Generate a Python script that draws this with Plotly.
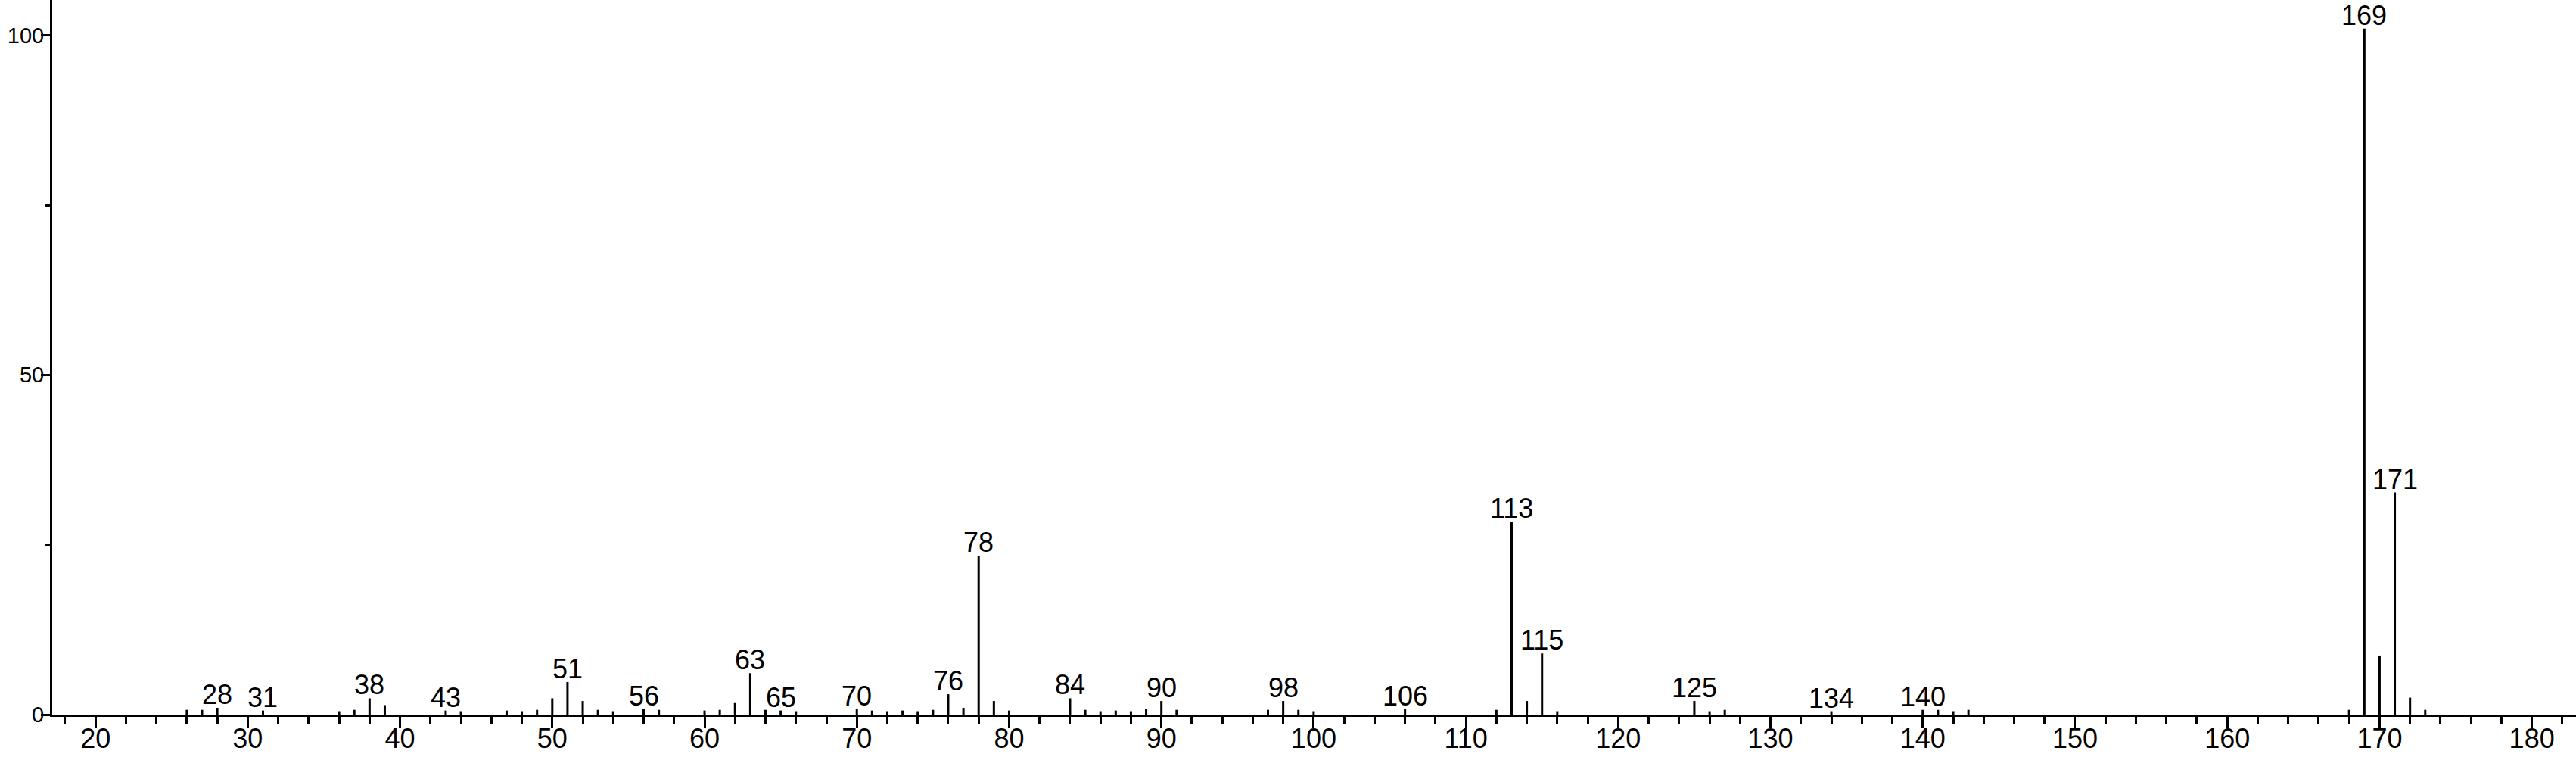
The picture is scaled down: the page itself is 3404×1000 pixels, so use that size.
import plotly.graph_objects as go

# m/z values and relative intensities
mz = [26, 27, 28, 31, 36, 37, 38, 39, 43, 44, 47, 48, 49, 50, 51, 52, 53, 54,
      56, 57, 60, 61, 62, 63, 64, 65, 66, 70, 71, 72, 73, 74, 75, 76, 77, 78,
      79, 80, 84, 85, 86, 87, 88, 89, 90, 91, 97, 98, 99, 100, 106, 112, 113,
      114, 115, 116, 125, 126, 127, 134, 140, 141, 142, 143, 168, 169, 170,
      171, 172, 173]
intensity = [0.7, 0.7, 1.0, 0.6, 0.5, 0.7, 2.4, 1.4, 0.6, 0.5, 0.6, 0.5, 0.7,
             2.4, 4.8, 2.0, 0.7, 0.5, 0.8, 0.7, 0.6, 0.7, 1.7, 6.1, 0.7, 0.6,
             0.5, 0.8, 0.6, 0.5, 0.6, 0.5, 0.7, 3.0, 1.0, 23.4, 2.0, 0.6, 2.4,
             0.7, 0.5, 0.6, 0.5, 0.8, 2.0, 0.7, 0.7, 2.0, 0.7, 0.5, 0.8, 0.7,
             28.4, 2.0, 9.0, 0.5, 2.0, 0.5, 0.7, 0.5, 0.7, 0.7, 0.5, 0.7, 0.7,
             101.0, 8.7, 32.7, 2.5, 0.7]

# peaks that carry an m/z label
labeled_mz = [28, 31, 38, 43, 51, 56, 63, 65, 70, 76, 78, 84, 90, 98, 106,
              113, 115, 125, 134, 140, 169, 171]

y_tickvals = [0, 50, 100]
y_minor_tickvals = [25, 75]
x_range = [17.16, 182.9]
y_range = [0, 105.2]

FONT = "Liberation Sans, Arial, Helvetica, sans-serif"

xs, ys = [], []
for m, v in zip(mz, intensity):
    xs += [m, m, None]
    ys += [0, v, None]

fig = go.Figure()
fig.add_trace(go.Scatter(x=xs, y=ys, mode="lines",
                         line=dict(color="black", width=3),
                         hoverinfo="skip", showlegend=False))

lookup = dict(zip(mz, intensity))
for m in labeled_mz:
    fig.add_annotation(x=m, y=lookup[m], text=str(m), showarrow=False,
                       xanchor="center", yanchor="bottom", yshift=-5,
                       font=dict(family=FONT, size=36, color="black"))

fig.update_layout(
    template="none",
    width=3404, height=1000,
    margin=dict(l=69, r=0, t=0, b=56, pad=0),
    paper_bgcolor="white", plot_bgcolor="white",
    font=dict(family=FONT, size=36, color="black"),
    showlegend=False,
    xaxis=dict(range=x_range, showgrid=False, zeroline=False, automargin=False,
               showline=True, linecolor="black", linewidth=3,
               ticks="outside", tickcolor="black", tickwidth=3, ticklen=15,
               tick0=0, dtick=10, ticklabelstandoff=-17,
               minor=dict(ticks="outside", dtick=2, tick0=0, ticklen=9,
                          tickwidth=3, tickcolor="black", showgrid=False),
               tickfont=dict(family=FONT, size=36, color="black")),
    yaxis=dict(range=y_range, showgrid=False, zeroline=False, automargin=False,
               showline=True, linecolor="black", linewidth=3,
               ticks="outside", tickcolor="black", tickwidth=3, ticklen=12,
               tickvals=y_tickvals, ticklabelstandoff=-10,
               minor=dict(ticks="outside", tickvals=y_minor_tickvals, ticklen=6,
                          tickwidth=3, tickcolor="black", showgrid=False),
               tickfont=dict(family=FONT, size=29, color="black")),
)

fig.write_html("out.html", config={"displayModeBar": False},
               post_script="document.body.style.margin='0';document.body.style.overflow='hidden';")
